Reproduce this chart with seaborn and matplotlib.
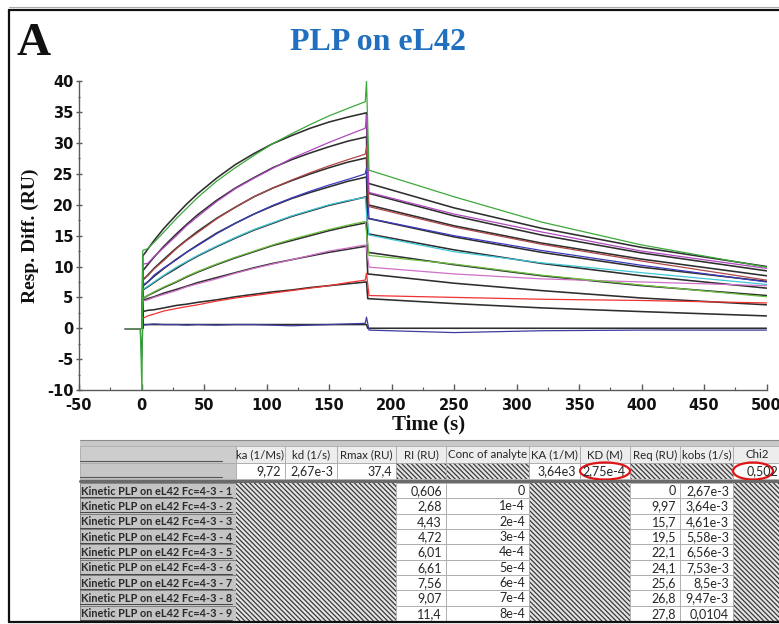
import matplotlib
matplotlib.use("Agg")
import matplotlib.pyplot as plt
from matplotlib.patches import Rectangle, Ellipse
from matplotlib.ticker import MultipleLocator
import pandas as pd
import seaborn as sns

# ------------------------------------------------------------------ data
curve_names = ["1", "2", "3", "4", "5", "6", "7", "8", "9"]
curve_colors = ["#3c3ca0", "#f03232", "#d070c8", "#6cc040", "#40c8d8",
                "#3c3cc0", "#b04848", "#b048c0", "#3ca83c"]

t_pre = [-13, -1]
pre_level = -0.1
t_spike_start = 0.4
t_assoc = [1, 5, 10, 18, 28, 36, 45, 60, 75, 90, 105, 120, 135, 150, 165, 179]
t_spike_end = 180
t_diss = [182, 250, 320, 400, 500]

spike_start = [-4.7, 0.0, 0.0, 0.0, 0.0, 0.0, 0.0, 0.0, -10.5]
spike_end = [1.8, 8.9, 13.0, 15.5, 18.5, 26.0, 29.5, 34.5, 40.0]

assoc_data = [
    [0.5, 0.6, 0.7, 0.6, 0.6, 0.5, 0.6, 0.5, 0.6, 0.6, 0.5, 0.4, 0.5, 0.6, 0.7, 0.8],
    [1.6, 2.0, 2.3, 2.8, 3.2, 3.5, 3.8, 4.4, 4.9, 5.3, 5.7, 6.1, 6.5, 6.9, 7.4, 7.8],
    [4.4, 4.6, 5.0, 5.5, 6.1, 6.7, 7.2, 8.0, 8.9, 9.7, 10.4, 11.1, 11.8, 12.5, 13.0, 13.5],
    [4.9, 5.3, 5.9, 6.7, 7.6, 8.4, 9.2, 10.4, 11.5, 12.5, 13.5, 14.4, 15.2, 16.0, 16.7, 17.3],
    [6.3, 6.8, 7.5, 8.6, 9.9, 10.8, 11.8, 13.3, 14.7, 16.0, 17.1, 18.2, 19.1, 20.0, 20.7, 21.2],
    [7.0, 7.5, 8.6, 9.8, 11.1, 12.3, 13.4, 15.3, 17.0, 18.5, 19.9, 21.1, 22.2, 23.2, 24.1, 25.0],
    [8.0, 8.5, 9.6, 11.0, 12.9, 14.2, 15.5, 17.7, 19.6, 21.3, 22.7, 24.0, 25.2, 26.3, 27.3, 28.2],
    [10.4, 10.5, 11.6, 13.1, 15.0, 16.6, 18.1, 20.5, 22.6, 24.3, 25.9, 27.5, 28.8, 30.1, 31.3, 32.4],
    [12.6, 12.9, 13.9, 15.6, 17.8, 19.4, 21.2, 23.8, 26.0, 28.0, 29.9, 31.5, 33.0, 34.4, 35.6, 36.7],
]
diss_data = [
    [-0.3, -0.7, -0.4, -0.3, -0.3],
    [5.3, 5.0, 4.7, 4.5, 4.1],
    [9.9, 8.8, 8.0, 7.5, 6.9],
    [11.8, 10.4, 8.6, 7.0, 5.1],
    [15.1, 12.4, 10.6, 9.0, 7.1],
    [17.8, 15.0, 12.6, 10.2, 7.5],
    [19.7, 16.4, 13.6, 10.9, 7.8],
    [22.0, 18.5, 15.6, 12.5, 9.7],
    [25.6, 21.3, 17.2, 13.5, 9.9],
]

# fitted (1:1 model) curves
t_fit_start = 0.8
fit_start_level = 0.0
t_fit_assoc = [1, 5, 10, 18, 28, 36, 45, 60, 75, 90, 105, 120, 135, 150, 165, 180]
t_fit_diss = [181, 250, 320, 400, 500]
fit_assoc = [
    [0.6, 0.6, 0.6, 0.6, 0.6, 0.6, 0.6, 0.6, 0.6, 0.6, 0.6, 0.6, 0.6, 0.6, 0.6, 0.6],
    [2.7, 2.9, 3.0, 3.3, 3.7, 3.9, 4.2, 4.6, 5.1, 5.5, 5.9, 6.2, 6.6, 6.9, 7.2, 7.5],
    [4.5, 4.8, 5.1, 5.7, 6.3, 6.8, 7.4, 8.2, 9.0, 9.8, 10.5, 11.1, 11.7, 12.3, 12.8, 13.3],
    [4.8, 5.3, 5.8, 6.6, 7.5, 8.3, 9.1, 10.3, 11.4, 12.4, 13.4, 14.2, 15.0, 15.8, 16.5, 17.1],
    [6.2, 6.7, 7.4, 8.5, 9.7, 10.7, 11.7, 13.2, 14.6, 15.9, 17.0, 18.1, 19.0, 19.9, 20.6, 21.3],
    [6.8, 7.5, 8.4, 9.7, 11.2, 12.3, 13.5, 15.4, 17.0, 18.5, 19.8, 21.0, 22.0, 22.9, 23.8, 24.5],
    [7.8, 8.6, 9.7, 11.2, 13.0, 14.3, 15.7, 17.8, 19.6, 21.3, 22.7, 23.9, 25.0, 26.0, 26.9, 27.6],
    [9.3, 10.3, 11.5, 13.3, 15.3, 16.8, 18.4, 20.7, 22.7, 24.4, 26.0, 27.3, 28.4, 29.4, 30.3, 31.0],
    [11.7, 12.8, 14.2, 16.2, 18.4, 20.1, 21.8, 24.3, 26.5, 28.3, 29.9, 31.2, 32.4, 33.4, 34.2, 34.9],
]
fit_diss = [
    [0.0, 0.0, 0.0, 0.0, 0.0],
    [4.8, 4.0, 3.3, 2.7, 2.0],
    [8.8, 7.3, 6.1, 4.9, 3.8],
    [12.3, 10.3, 8.5, 6.9, 5.3],
    [15.3, 12.7, 10.5, 8.5, 6.5],
    [17.8, 14.8, 12.3, 9.9, 7.6],
    [20.0, 16.6, 13.8, 11.2, 8.5],
    [21.9, 18.2, 15.1, 12.2, 9.3],
    [23.5, 19.5, 16.2, 13.1, 10.0],
]

# table contents
table_headers = ["ka (1/Ms)", "kd (1/s)", "Rmax (RU)", "RI (RU)", "Conc of analyte",
                 "KA (1/M)", "KD (M)", "Req (RU)", "kobs (1/s)", "Chi2"]
global_values = ["9,72", "2,67e-3", "37,4", None, None, "3,64e3", "2,75e-4", None, None, "0,502"]
row_labels = ["Kinetic PLP on eL42 Fc=4-3 - %d" % i for i in range(1, 10)]
ri_values = ["0,606", "2,68", "4,43", "4,72", "6,01", "6,61", "7,56", "9,07", "11,4"]
conc_values = ["0", "1e-4", "2e-4", "3e-4", "4e-4", "5e-4", "6e-4", "7e-4", "8e-4"]
req_values = ["0", "9,97", "15,7", "19,5", "22,1", "24,1", "25,6", "26,8", "27,8"]
kobs_values = ["2,67e-3", "3,64e-3", "4,61e-3", "5,58e-3", "6,56e-3",
               "7,53e-3", "8,5e-3", "9,47e-3", "0,0104"]

# ------------------------------------------------------------------ frames
data_rows = []
for i, name in enumerate(curve_names):
    ts = t_pre + [t_spike_start] + t_assoc + [t_spike_end] + t_diss
    vs = [pre_level] * len(t_pre) + [spike_start[i]] + assoc_data[i] + [spike_end[i]] + diss_data[i]
    for t, v in zip(ts, vs):
        data_rows.append({"curve": name, "time": t, "resp": v})
df_data = pd.DataFrame(data_rows)

fit_rows = []
for i, name in enumerate(curve_names):
    ts = [t_fit_start] + t_fit_assoc + t_fit_diss
    vs = [fit_start_level] + fit_assoc[i] + fit_diss[i]
    for t, v in zip(ts, vs):
        fit_rows.append({"curve": name, "time": t, "resp": v})
df_fit = pd.DataFrame(fit_rows)

# ------------------------------------------------------------------ style
sns.set_theme(style="ticks")
plt.rcParams["font.family"] = ["DejaVu Sans"]
plt.rcParams["axes.unicode_minus"] = False
plt.rcParams["hatch.linewidth"] = 0.9

table_font = "Lato"
serif = "Liberation Serif"

W, H = 779, 624
fig = plt.figure(figsize=(W / 100, H / 100), dpi=100)

# overlay axes in pixel coordinates (frame, titles, table)
ov = fig.add_axes([0, 0, 1, 1])
ov.set_xlim(0, W)
ov.set_ylim(H, 0)
ov.axis("off")

# chart axes
x0, x1, y0, y1 = 79, 766.5, 81.3, 390
ax = fig.add_axes([x0 / W, 1 - y1 / H, (x1 - x0) / W, (y1 - y0) / H])
ax.patch.set_alpha(0)

sns.lineplot(data=df_fit, x="time", y="resp", units="curve", estimator=None,
             sort=False, color="#2e2e2e", linewidth=1.15, legend=False, ax=ax)
sns.lineplot(data=df_data, x="time", y="resp", hue="curve", palette=curve_colors,
             units="curve", estimator=None, sort=False, linewidth=0.9,
             legend=False, ax=ax)

ax.set_xlim(-50, 500)
ax.set_ylim(-10, 40)
ax.set_xlabel("")
ax.set_ylabel("")
for s in ["top", "right"]:
    ax.spines[s].set_visible(False)
for s in ["left", "bottom"]:
    ax.spines[s].set_color("#5a5a5a")
    ax.spines[s].set_linewidth(1.0)
ax.xaxis.set_major_locator(MultipleLocator(50))
ax.xaxis.set_minor_locator(MultipleLocator(25))
ax.yaxis.set_major_locator(MultipleLocator(5))
ax.yaxis.set_minor_locator(MultipleLocator(2.5))
ax.tick_params(axis="x", which="major", direction="in", length=4, width=1,
               color="#5a5a5a", pad=6)
ax.tick_params(axis="x", which="minor", direction="in", length=2, width=0.8,
               color="#5a5a5a")
ax.tick_params(axis="y", which="major", direction="inout", length=4, width=1,
               color="#5a5a5a", pad=2)
ax.tick_params(axis="y", which="minor", direction="inout", length=2, width=0.8,
               color="#5a5a5a")
for lab in ax.get_xticklabels() + ax.get_yticklabels():
    lab.set_fontfamily("DejaVu Sans")
    lab.set_fontweight("bold")
    lab.set_fontsize(10.5)
    lab.set_color("#111111")

# ------------------------------------------------------------------ decorations
ov.plot([9.5, 9.5], [9.5, 622], color="#111111", lw=1.6)
ov.plot([9.5, W], [9.5, 9.5], color="#111111", lw=1.6)
ov.plot([9.5, W], [621.5, 621.5], color="#111111", lw=1.6)
ov.plot([9.5, W], [7, 7], color="#aaaaaa", lw=0.8)

ov.text(17, 55, "A", fontfamily=serif, fontweight="bold", fontsize=34,
        ha="left", va="baseline", color="#111111")
ov.text(378, 42, "PLP on eL42", fontfamily=serif, fontweight="bold", fontsize=23,
        ha="center", va="center", color="#2170bf")
ov.text(30, 236, "Resp. Diff. (RU)", fontfamily=serif, fontweight="bold", fontsize=14,
        rotation=90, ha="center", va="center", color="#111111")
ov.text(429, 424, "Time (s)", fontfamily=serif, fontweight="bold", fontsize=15,
        ha="center", va="center", color="#111111")

# ------------------------------------------------------------------ table
col_edges = [80, 236, 285, 337, 396, 446, 529, 580, 630, 680, 733, 782]
hatch = "\\" * 7
txt_col = "#262626"


def cell(xa, xb, ya, yb, face="white", hatched=False, edge="#a8a8a8"):
    if hatched:
        ov.add_patch(Rectangle((xa, ya), xb - xa, yb - ya, facecolor="#e4e4e4",
                               edgecolor="#3a3a3a", linewidth=0, hatch=hatch))
        ov.add_patch(Rectangle((xa, ya), xb - xa, yb - ya, facecolor="none",
                               edgecolor=edge, linewidth=0.6))
    else:
        ov.add_patch(Rectangle((xa, ya), xb - xa, yb - ya, facecolor=face,
                               edgecolor=edge, linewidth=0.6))


# top band
ov.add_patch(Rectangle((80, 440), W - 80, 6, facecolor="#c8c8c8", edgecolor="none"))
ov.plot([80, W], [440, 440], color="#8a8a8a", lw=0.8)

# header row
hy0, hy1 = 446, 463
cell(col_edges[0], col_edges[1], hy0, hy1, face="#cdcdcd")
ov.plot([80, 222], [461, 461], color="#555555", lw=0.8)
for j, h in enumerate(table_headers):
    xa, xb = col_edges[j + 1], col_edges[j + 2]
    cell(xa, xb, hy0, hy1, face="#ededed")
    ov.text((xa + xb) / 2, (hy0 + hy1) / 2 + 0.5, h, fontfamily=table_font, fontsize=8.3,
            ha="center", va="center", color=txt_col)

# global fitted values row
gy0, gy1 = 463, 479
cell(col_edges[0], col_edges[1], gy0, gy1, face="#c6c6c6")
ov.plot([80, 222], [477, 477], color="#555555", lw=0.8)
for j, v in enumerate(global_values):
    xa, xb = col_edges[j + 1], col_edges[j + 2]
    if v is None:
        cell(xa, xb, gy0, gy1, hatched=True)
    else:
        cell(xa, xb, gy0, gy1)
        ov.text(xb - 4, (gy0 + gy1) / 2 + 0.5, v, fontfamily=table_font, fontsize=9,
                ha="right", va="center", color=txt_col)
ov.plot([80, W], [480.5, 480.5], color="#6a6a6a", lw=2.2)

# result rows
ry0 = 483
rh = (621 - ry0) / len(row_labels)
for i, lab in enumerate(row_labels):
    ya, yb = ry0 + i * rh, ry0 + (i + 1) * rh
    yc = (ya + yb) / 2 + 0.5
    cell(col_edges[0], col_edges[1], ya, yb, face="#c4c4c4", edge="#777777")
    ov.text(81, yc, lab, fontfamily=table_font, fontweight="bold", fontsize=7.8,
            ha="left", va="center", color="#2a2a2a")
    ov.plot([80, 232], [yb - 1.5, yb - 1.5], color="#444444", lw=0.7)
    # hatched blocks
    cell(col_edges[1], col_edges[4], ya, yb, hatched=True, edge="none")
    cell(col_edges[6], col_edges[8], ya, yb, hatched=True, edge="none")
    cell(col_edges[10], col_edges[11], ya, yb, hatched=True, edge="none")
    # values
    for (cj, vals) in [(4, ri_values), (5, conc_values), (8, req_values), (9, kobs_values)]:
        xa, xb = col_edges[cj], col_edges[cj + 1]
        cell(xa, xb, ya, yb)
        ov.text(xb - 4, yc, vals[i], fontfamily=table_font, fontsize=9,
                ha="right", va="center", color=txt_col)

# red highlight ellipses
ov.add_patch(Ellipse((605, 471), 50, 17, fill=False, edgecolor="#e01414", lw=1.6))
ov.add_patch(Ellipse((753, 471), 40, 17, fill=False, edgecolor="#e01414", lw=1.6))

fig.savefig("out.png", dpi=100)
